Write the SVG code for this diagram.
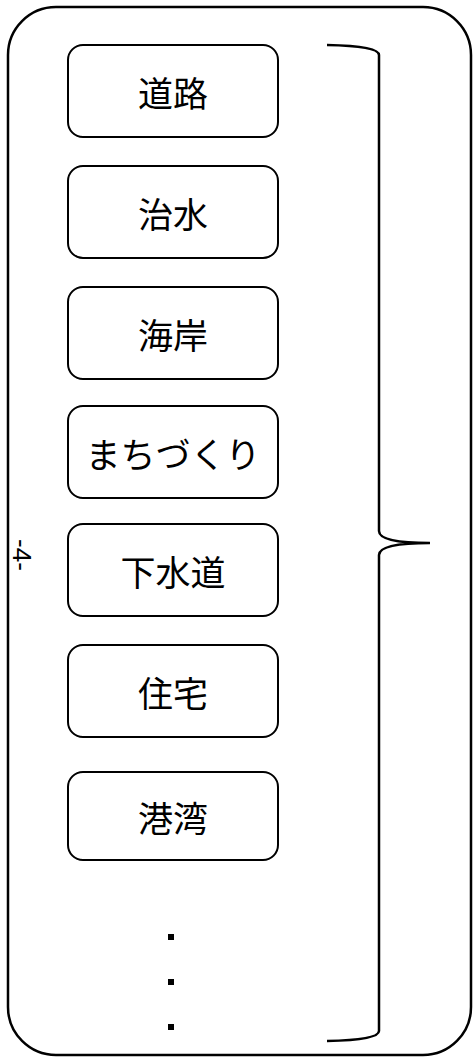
<svg xmlns="http://www.w3.org/2000/svg" width="473" height="1057" viewBox="0 0 473 1057">
<style>
.box{fill:#fff;stroke:#000;stroke-width:2}
.lbl{font-family:"Noto Sans CJK JP","Noto Sans",sans-serif;font-size:35px;fill:#000;text-anchor:middle;dominant-baseline:central}
.line{fill:none;stroke:#000;stroke-width:2.5}
</style>
<rect x="0" y="0" width="473" height="1057" fill="#fff"/>
<g id="frame"><rect x="8" y="7" width="463" height="1048" rx="48" ry="48" class="line" stroke-width="2"/></g>
<g id="n1"><rect class="box" x="68" y="45" width="210" height="92" rx="15"/><text class="lbl" x="173" y="91">道路</text></g>
<g id="n2"><rect class="box" x="68" y="166" width="210" height="92" rx="15"/><text class="lbl" x="173" y="212">治水</text></g>
<g id="n3"><rect class="box" x="68" y="287" width="210" height="92" rx="15"/><text class="lbl" x="173" y="333">海岸</text></g>
<g id="n4"><rect class="box" x="68" y="406" width="210" height="92" rx="15"/><text class="lbl" x="173" y="452">まちづくり</text></g>
<g id="n5"><rect class="box" x="68" y="524" width="210" height="92" rx="15"/><text class="lbl" x="173" y="570">下水道</text></g>
<g id="n6"><rect class="box" x="68" y="645" width="210" height="92" rx="15"/><text class="lbl" x="173" y="691">住宅</text></g>
<g id="n7"><rect class="box" x="68" y="772" width="210" height="88" rx="15"/><text class="lbl" x="173" y="816">港湾</text></g>
<g id="dots" fill="#000"><rect x="168" y="934" width="6" height="6"/><rect x="168" y="979" width="6" height="6"/><rect x="168" y="1024" width="6" height="6"/></g>
<g id="connectors"><path class="line" d="M327,45 Q379,46 379,55 L379,531 Q379,543 430,543 Q379,543 379,555 L379,1031 Q379,1040 327,1041"/></g>
<g id="page"><text x="22" y="555" transform="rotate(90 22 555)" font-family="Liberation Sans, sans-serif" font-size="26" text-anchor="middle" dominant-baseline="central">-4-</text></g>
</svg>
